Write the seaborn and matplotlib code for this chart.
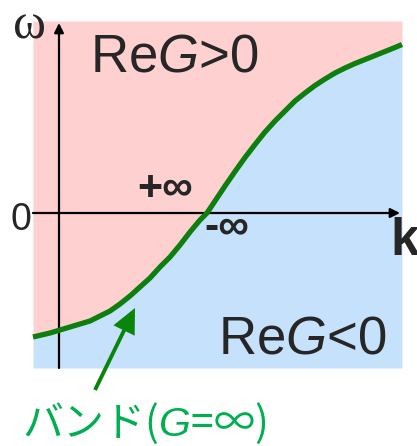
import matplotlib
matplotlib.use("Agg")
import matplotlib.pyplot as plt
import seaborn as sns
import pandas as pd

# Band curve (k, omega)
k_vals = [-0.26, -0.09, 0.01, 0.11, 0.21, 0.31, 0.41, 0.51, 0.61, 0.71,
          0.81, 0.91, 1.01, 1.11, 1.21, 1.31, 1.41, 1.48, 1.56, 1.66,
          1.76, 1.86, 1.96, 2.06, 2.16, 2.26, 2.36, 2.46, 2.56, 2.66,
          2.76, 2.86, 2.96, 3.06, 3.16, 3.26, 3.36, 3.43]
omega_vals = [-1.24, -1.20, -1.17, -1.14, -1.11, -1.08, -1.03, -0.98, -0.91, -0.83,
              -0.74, -0.65, -0.54, -0.44, -0.32, -0.19, -0.07, 0.00, 0.12, 0.27,
              0.415, 0.555, 0.685, 0.81, 0.92, 1.02, 1.12, 1.20, 1.275, 1.34,
              1.40, 1.45, 1.495, 1.535, 1.575, 1.615, 1.655, 1.685]
region_top = 1.92
region_bottom = -1.55

label_upper = r"Re$G$>0"
label_lower = r"Re$G$<0"
label_band = r"バンド($G$=∞)"
label_pos_inf = "+∞"
label_neg_inf = "-∞"
label_k = "k"
label_omega = r"$\mathbf{ω}$"
label_zero = "0"

sns.set_style("white")
plt.rcParams["font.family"] = ["Liberation Sans", "DejaVu Sans"]
plt.rcParams["mathtext.fontset"] = "custom"
plt.rcParams["mathtext.rm"] = "Liberation Sans"
plt.rcParams["mathtext.it"] = "Liberation Sans:italic"
plt.rcParams["mathtext.bf"] = "Liberation Serif"

df = pd.DataFrame({"k": k_vals, "omega": omega_vals})

fig = plt.figure(figsize=(4.17, 4.46), dpi=100)
ax = fig.add_axes([0, 0, 1, 1])
ax.set_xlim(-0.59, 3.58)
ax.set_ylim(-2.33, 2.13)
ax.axis("off")

pink = "#FFD0D0"
blue = "#C6E1FB"
ax.fill_between(df["k"], df["omega"], region_top, color=pink, lw=0, zorder=1)
ax.fill_between(df["k"], region_bottom, df["omega"], color=blue, lw=0, zorder=1)

# axes with arrows
ax.annotate("", xy=(3.41, 0), xytext=(-0.26, 0),
            arrowprops=dict(arrowstyle="-|>", lw=1.6, color="black",
                            mutation_scale=14, shrinkA=0, shrinkB=0), zorder=3)
ax.annotate("", xy=(0, 1.90), xytext=(0, region_bottom),
            arrowprops=dict(arrowstyle="-|>", lw=1.6, color="black",
                            mutation_scale=14, shrinkA=0, shrinkB=0), zorder=3)

sns.lineplot(data=df, x="k", y="omega", ax=ax, color="#0E7F0E", lw=3.8,
             sort=False, zorder=4, solid_joinstyle="round", solid_capstyle="butt")

# annotation arrow
ax.annotate("", xy=(0.76, -0.95), xytext=(0.36, -1.77),
            arrowprops=dict(width=2.8, headwidth=17, headlength=18, shrink=0,
                            color="#0A850A", lw=0), zorder=5)

ax.text(0.31, 1.42, label_upper, fontsize=38, ha="left", va="baseline", zorder=6)
ax.text(1.59, -1.40, label_lower, fontsize=38, ha="left", va="baseline", zorder=6)
ax.text(-0.28, -0.17, label_zero, fontsize=27, ha="right", va="baseline", zorder=6)
ax.text(0.78, 0.13, label_pos_inf, fontsize=31, fontweight="bold", ha="left",
        va="baseline", zorder=6)
ax.text(1.45, -0.25, label_neg_inf, fontsize=31, fontweight="bold", ha="left",
        va="baseline", zorder=6)
ax.text(3.31, -0.42, label_k, fontsize=37, fontweight="bold", ha="left",
        va="baseline", zorder=6)
ax.text(-0.30, 2.115, label_omega, fontsize=36, ha="center", va="top", zorder=6)
ax.text(-0.37, -2.23, label_band, fontsize=29.5, color="#00B050",
        family=["Noto Sans CJK JP", "DejaVu Sans"], ha="left", va="baseline", zorder=6)

fig.savefig("out.png", dpi=100)
